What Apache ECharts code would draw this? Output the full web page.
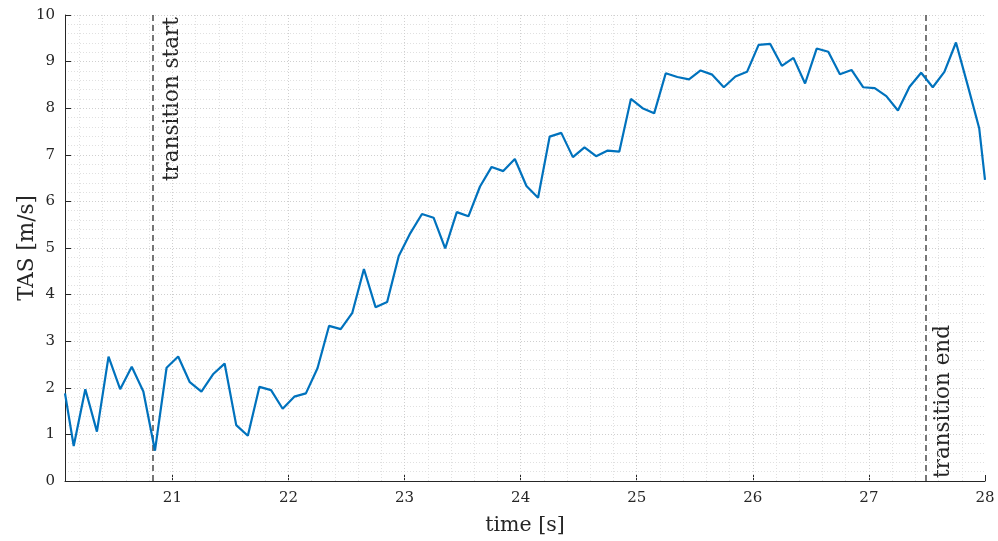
<!DOCTYPE html>
<html><head><meta charset="utf-8">
<script src="https://cdn.jsdelivr.net/npm/echarts@6/dist/echarts.min.js"></script>
<style>html,body{margin:0;padding:0;background:#fff}#c{width:998px;height:541px}</style>
</head><body><div id="c"></div>
<script>
const times = [20.075,20.15,20.25,20.35,20.45,20.55,20.65,20.75,20.85,20.95,
21.05,21.15,21.25,21.35,21.45,21.55,21.65,21.75,21.85,21.95,
22.05,22.15,22.25,22.35,22.45,22.55,22.65,22.75,22.85,22.95,
23.05,23.15,23.25,23.35,23.45,23.55,23.65,23.75,23.85,23.95,
24.05,24.15,24.25,24.35,24.45,24.55,24.65,24.75,24.85,24.95,
25.05,25.15,25.25,25.35,25.45,25.55,25.65,25.75,25.85,25.95,
26.05,26.15,26.25,26.35,26.45,26.55,26.65,26.75,26.85,26.95,
27.05,27.15,27.25,27.35,27.45,27.55,27.65,27.75,27.85,27.95,28.0];
const tas = [1.88,0.75,1.97,1.06,2.67,1.97,2.45,1.92,0.65,2.43,
2.67,2.12,1.92,2.29,2.52,1.2,0.97,2.02,1.95,1.55,
1.81,1.88,2.42,3.33,3.26,3.61,4.55,3.73,3.84,4.83,
5.32,5.73,5.65,4.99,5.77,5.68,6.32,6.74,6.65,6.91,
6.33,6.08,7.39,7.47,6.95,7.16,6.97,7.09,7.07,8.2,
8.0,7.89,8.75,8.67,8.62,8.81,8.72,8.45,8.68,8.78,
9.36,9.38,8.91,9.08,8.53,9.28,9.21,8.73,8.82,8.45,
8.43,8.26,7.95,8.46,8.76,8.45,8.78,9.41,8.5,7.57,6.46];
const xTicks = [21,22,23,24,25,26,27,28];
const xMinorGrid = [20.2,20.4,20.6,20.8,21.2,21.4,21.6,21.8,22.2,22.4,22.6,22.8,23.2,23.4,23.6,23.8,24.2,24.4,24.6,24.8,25.2,25.4,25.6,25.8,26.2,26.4,26.6,26.8,27.2,27.4,27.6,27.8];
const events = [{t:20.834,label:'transition start'},{t:27.489,label:'transition end'}];
const xMin = 20.075, xMax = 28;

const FONT = 'DejaVu Serif';
const chart = echarts.init(document.getElementById('c'), null, {renderer:'canvas'});
const data = times.map((t,i)=>[t,tas[i]]);
chart.setOption({
  animation:false,
  grid:{left:65,right:13,top:15,bottom:60,containLabel:false,outerBoundsMode:'none'},
  xAxis:{type:'value',min:xMin,max:xMax,
    axisLine:{show:true,onZero:false,lineStyle:{color:'#262626',width:1}},
    axisTick:{show:true,inside:true,length:6,customValues:xTicks,lineStyle:{color:'#262626'}},
    axisLabel:{customValues:xTicks,color:'#262626',fontFamily:FONT,fontSize:15,margin:10,formatter:v=>String(v)},
    splitLine:{show:false},
    name:'time [s]',nameLocation:'middle',nameGap:34,nameMoveOverlap:false,
    nameTextStyle:{color:'#262626',fontFamily:FONT,fontSize:20.5}},
  yAxis:{type:'value',min:0,max:10,interval:1,
    axisLine:{show:true,lineStyle:{color:'#262626',width:1}},
    axisTick:{show:true,inside:true,length:6,lineStyle:{color:'#262626'}},
    axisLabel:{color:'#262626',fontFamily:FONT,fontSize:15,margin:10},
    splitLine:{show:true,lineStyle:{color:'#cfcfcf',type:[1,2],width:1}},
    minorTick:{show:false,splitNumber:5},
    minorSplitLine:{show:true,lineStyle:{color:'#e0e0e0',type:[1,2],width:1}},
    name:'TAS [m/s]',nameLocation:'middle',nameGap:27,nameMoveOverlap:false,
    nameTextStyle:{color:'#262626',fontFamily:FONT,fontSize:21.5}},
  series:[
    {type:'line',data:[],silent:true,
     markLine:{silent:true,symbol:'none',animation:false,label:{show:false},
       lineStyle:{color:'#e0e0e0',type:[1,2],width:1},
       data:xMinorGrid.map(v=>({xAxis:v}))}},
    {type:'line',data:[],silent:true,
     markLine:{silent:true,symbol:'none',animation:false,label:{show:false},
       lineStyle:{color:'#cfcfcf',type:[1,2],width:1},
       data:xTicks.slice(0,-1).map(v=>({xAxis:v}))}},
    {type:'line',data:data,showSymbol:false,clip:true,
     lineStyle:{color:'#0072BD',width:2.2},itemStyle:{color:'#0072BD'},z:5,
     markLine:{silent:true,symbol:'none',animation:false,label:{show:false},
       lineStyle:{color:'#555555',type:[6,4],width:1.6},
       data:events.map(e=>({xAxis:e.t}))}}
  ]
});
const pTop = chart.convertToPixel({xAxisIndex:0,yAxisIndex:0},[events[0].t,10]);
const pBot = chart.convertToPixel({xAxisIndex:0,yAxisIndex:0},[events[1].t,0]);
chart.setOption({graphic:[
  {type:'text',x:pTop[0]+8,y:pTop[1]+2,rotation:Math.PI/2,
   style:{text:events[0].label,font:'21.5px "'+FONT+'"',fill:'#262626',align:'right',verticalAlign:'top'}},
  {type:'text',x:pBot[0]+7,y:pBot[1]-3,rotation:Math.PI/2,
   style:{text:events[1].label,font:'21.5px "'+FONT+'"',fill:'#262626',align:'left',verticalAlign:'top'}}
]});
</script></body></html>
